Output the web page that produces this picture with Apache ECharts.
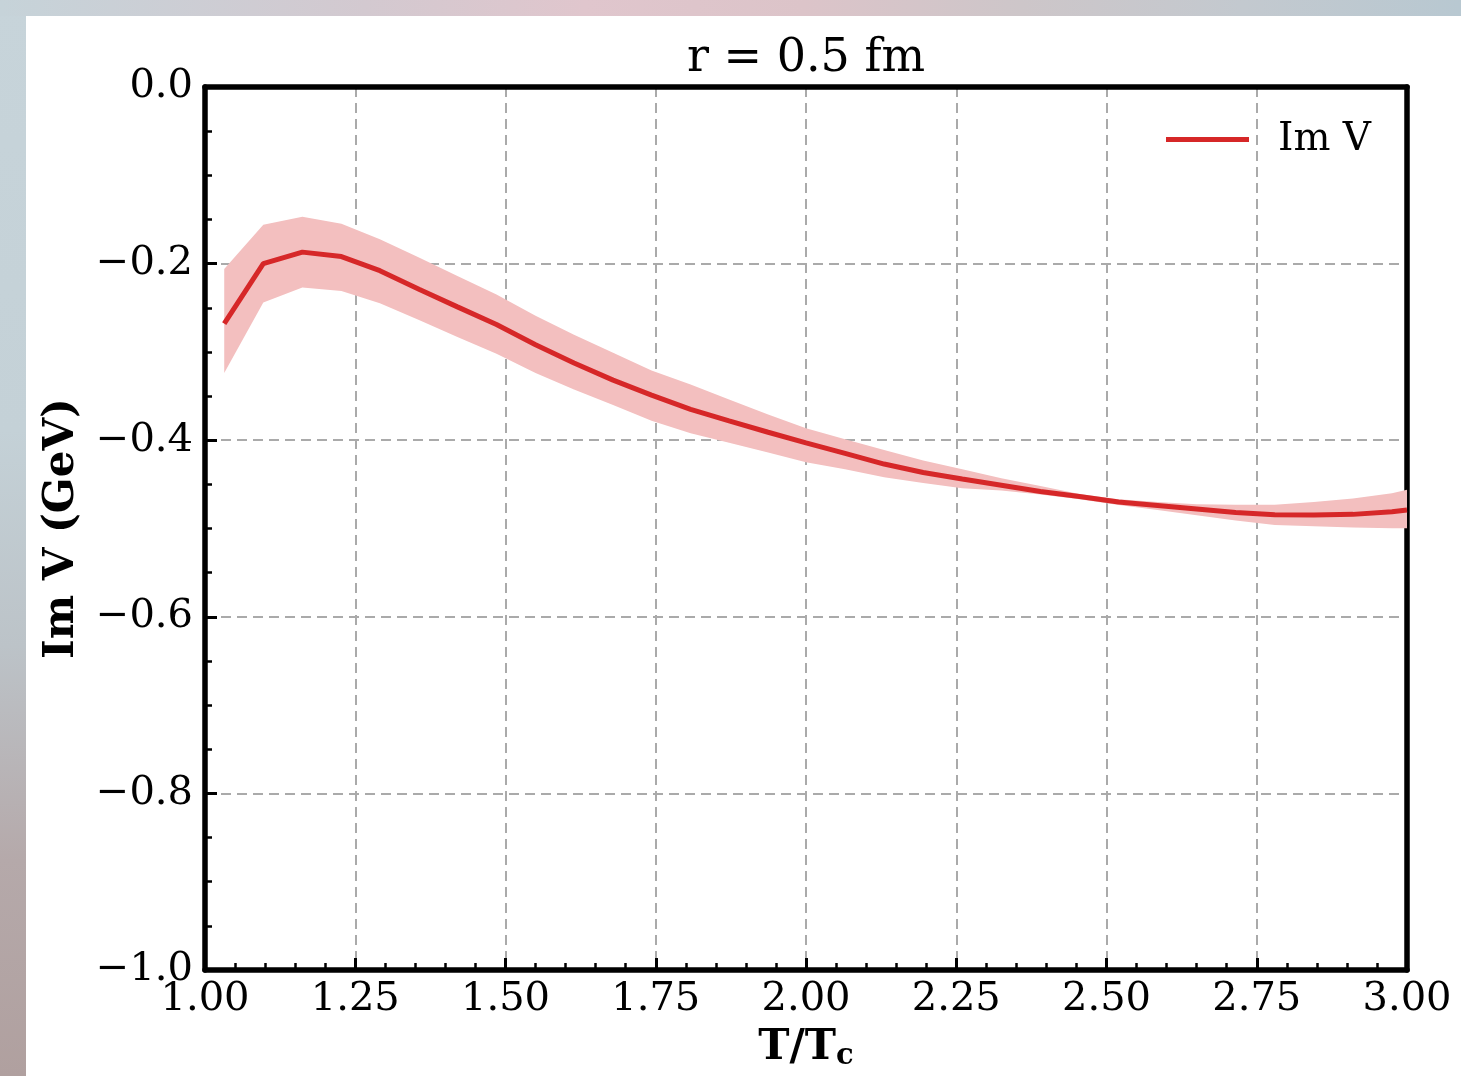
<!DOCTYPE html>
<html>
<head>
<meta charset="utf-8">
<script src="https://cdn.jsdelivr.net/npm/echarts@6/dist/echarts.min.js"></script>
<style>
  html, body { margin: 0; padding: 0; width: 1461px; height: 1076px; overflow: hidden; }
  body {
    background: linear-gradient(180deg, #c7d4da 0%, #c4d1d7 40%, #bcc3c8 60%, #b5a9aa 80%, #b0a09f 100%);
    position: relative;
  }
  #topband {
    position: absolute; left: 0; top: 0; width: 1461px; height: 16px;
    background: linear-gradient(90deg, #c6d3d9 0%, #d3c9d0 25%, #e0c6cd 40%, #dcc4c9 55%, #cdc6c9 70%, #c3c9cf 85%, #b8c8d1 100%);
  }
  #chart {
    position: absolute; left: 26px; top: 16px; width: 1435px; height: 1060px; background: #ffffff;
  }
</style>
</head>
<body>
<div id="topband"></div>
<div id="chart"></div>
<script>
// ---- data ----
const titleText = 'r = 0.5 fm';
const seriesName = 'Im V';
const xTicks = { min: 1.0, max: 3.0, interval: 0.25 };
const yTicks = { min: -1.0, max: 0.0, interval: 0.2 };

const T = [1.032, 1.097, 1.162, 1.227, 1.291, 1.356, 1.42, 1.485, 1.55, 1.614,
           1.679, 1.743, 1.808, 1.872, 1.937, 2.0, 2.065, 2.13, 2.195, 2.26,
           2.325, 2.39, 2.455, 2.52, 2.585, 2.65, 2.715, 2.78, 2.845, 2.91,
           2.975, 3.0];
const imV = [-0.268, -0.200, -0.187, -0.192, -0.208, -0.229, -0.249, -0.269, -0.292, -0.3125,
             -0.332, -0.349, -0.365, -0.378, -0.391, -0.403, -0.415, -0.427, -0.4366, -0.444,
             -0.451, -0.458, -0.4638, -0.470, -0.474, -0.478, -0.482, -0.4843, -0.4847, -0.484,
             -0.481, -0.479];
const bandHigh = [-0.206, -0.156, -0.147, -0.155, -0.1725, -0.193, -0.214, -0.235, -0.259, -0.2805,
                  -0.301, -0.321, -0.337, -0.354, -0.371, -0.3866, -0.399, -0.411, -0.423, -0.433,
                  -0.443, -0.452, -0.461, -0.467, -0.470, -0.4725, -0.4732, -0.473, -0.470, -0.466,
                  -0.460, -0.456];
const bandLow = [-0.324, -0.244, -0.227, -0.231, -0.245, -0.264, -0.283, -0.302, -0.324, -0.3426,
                 -0.360, -0.378, -0.392, -0.403, -0.414, -0.425, -0.433, -0.442, -0.4485, -0.4545,
                 -0.457, -0.4615, -0.467, -0.4735, -0.479, -0.485, -0.491, -0.496, -0.4975, -0.499,
                 -0.4996, -0.4998];

// ---- build series data ----
const lineData = T.map((t, i) => [t, imV[i]]);
const bandData = T.map((t, i) => [t, bandLow[i], bandHigh[i]]);

const FONT = '"DejaVu Serif", serif';
const RED = '#d62728';
const BAND = '#f3bfbf';
const FRAME = 5.5;

const chart = echarts.init(document.getElementById('chart'), null, { renderer: 'canvas' });

const yFmt = v => {
  const s = Math.abs(v).toFixed(1);
  return (v < -1e-9 ? '\u2212' : '') + s;
};

const frameAxis = {
  show: true,
  axisLine: { show: true, onZero: false, lineStyle: { color: '#000', width: FRAME } },
  axisTick: { show: false },
  minorTick: { show: false },
  axisLabel: { show: false },
  splitLine: { show: false }
};

chart.setOption({
  backgroundColor: '#ffffff',
  animation: false,
  title: {
    text: titleText,
    left: 780,
    top: 20,
    textAlign: 'center',
    padding: 0,
    textStyle: { fontFamily: FONT, fontSize: 46, fontWeight: 'normal', color: '#000' }
  },
  legend: {
    data: [{ name: seriesName, icon: 'rect' }],
    left: 1140,
    top: 104,
    padding: 0,
    itemWidth: 83,
    itemHeight: 5,
    textStyle: { fontFamily: FONT, fontSize: 39, color: '#000', padding: [0, 0, 0, 24] }
  },
  grid: {
    left: 179, right: 54, top: 71, bottom: 106,
    show: false,
    containLabel: false
  },
  xAxis: [{
    type: 'value',
    position: 'bottom',
    min: xTicks.min, max: xTicks.max, interval: xTicks.interval,
    name: 'T/T{sub|c}',
    nameLocation: 'middle',
    nameGap: 55,
    nameTextStyle: {
      fontFamily: FONT, fontSize: 42, fontWeight: 'bold', color: '#000',
      rich: { sub: { fontFamily: FONT, fontSize: 29, fontWeight: 'bold', color: '#000', verticalAlign: 'bottom', padding: [17, 0, 0, 0] } }
    },
    axisLine: { show: true, onZero: false, lineStyle: { color: '#000', width: FRAME } },
    axisTick: { show: true, inside: true, length: 12, lineStyle: { color: '#000', width: 3 } },
    minorTick: { show: true, splitNumber: 5, length: 7, lineStyle: { color: '#000', width: 2.5 } },
    axisLabel: {
      show: true, margin: 10, fontFamily: FONT, fontSize: 40, color: '#000',
      formatter: v => v.toFixed(2), showMinLabel: true, showMaxLabel: true
    },
    splitLine: { show: true, lineStyle: { color: '#aaaaaa', width: 2, type: [10, 6] } }
  }, Object.assign({
    type: 'value', position: 'top', min: xTicks.min, max: xTicks.max, interval: xTicks.interval
  }, frameAxis)],
  yAxis: [{
    type: 'value',
    position: 'left',
    min: yTicks.min, max: yTicks.max, interval: yTicks.interval,
    name: 'Im V (GeV)',
    nameLocation: 'middle',
    nameGap: 122,
    nameTextStyle: { fontFamily: FONT, fontSize: 42, fontWeight: 'bold', color: '#000' },
    axisLine: { show: true, onZero: false, lineStyle: { color: '#000', width: FRAME } },
    axisTick: { show: true, inside: true, length: 12, lineStyle: { color: '#000', width: 3 } },
    minorTick: { show: true, splitNumber: 4, length: 7, lineStyle: { color: '#000', width: 2.5 } },
    axisLabel: {
      show: true, margin: 12, fontFamily: FONT, fontSize: 40, color: '#000',
      padding: [5, 0, 0, 0],
      formatter: yFmt, showMinLabel: true, showMaxLabel: true
    },
    splitLine: { show: true, lineStyle: { color: '#aaaaaa', width: 2, type: [10, 6] } }
  }, Object.assign({
    type: 'value', position: 'right', min: yTicks.min, max: yTicks.max, interval: yTicks.interval
  }, frameAxis)],
  series: [
    {
      name: 'band', type: 'custom', data: bandData,
      encode: { x: 0, y: [1, 2] },
      silent: true, z: 1,
      renderItem: function (params, api) {
        if (params.dataIndex !== 0) return null;
        const pts = [];
        for (let i = 0; i < T.length; i++) pts.push(api.coord([T[i], bandHigh[i]]));
        for (let i = T.length - 1; i >= 0; i--) pts.push(api.coord([T[i], bandLow[i]]));
        return { type: 'polygon', shape: { points: pts }, style: { fill: BAND, stroke: null } };
      }
    },
    {
      name: seriesName, type: 'line', data: lineData, symbol: 'none', smooth: false,
      lineStyle: { color: RED, width: 5 }, itemStyle: { color: RED }, z: 3
    }
  ]
});
</script>
</body>
</html>
